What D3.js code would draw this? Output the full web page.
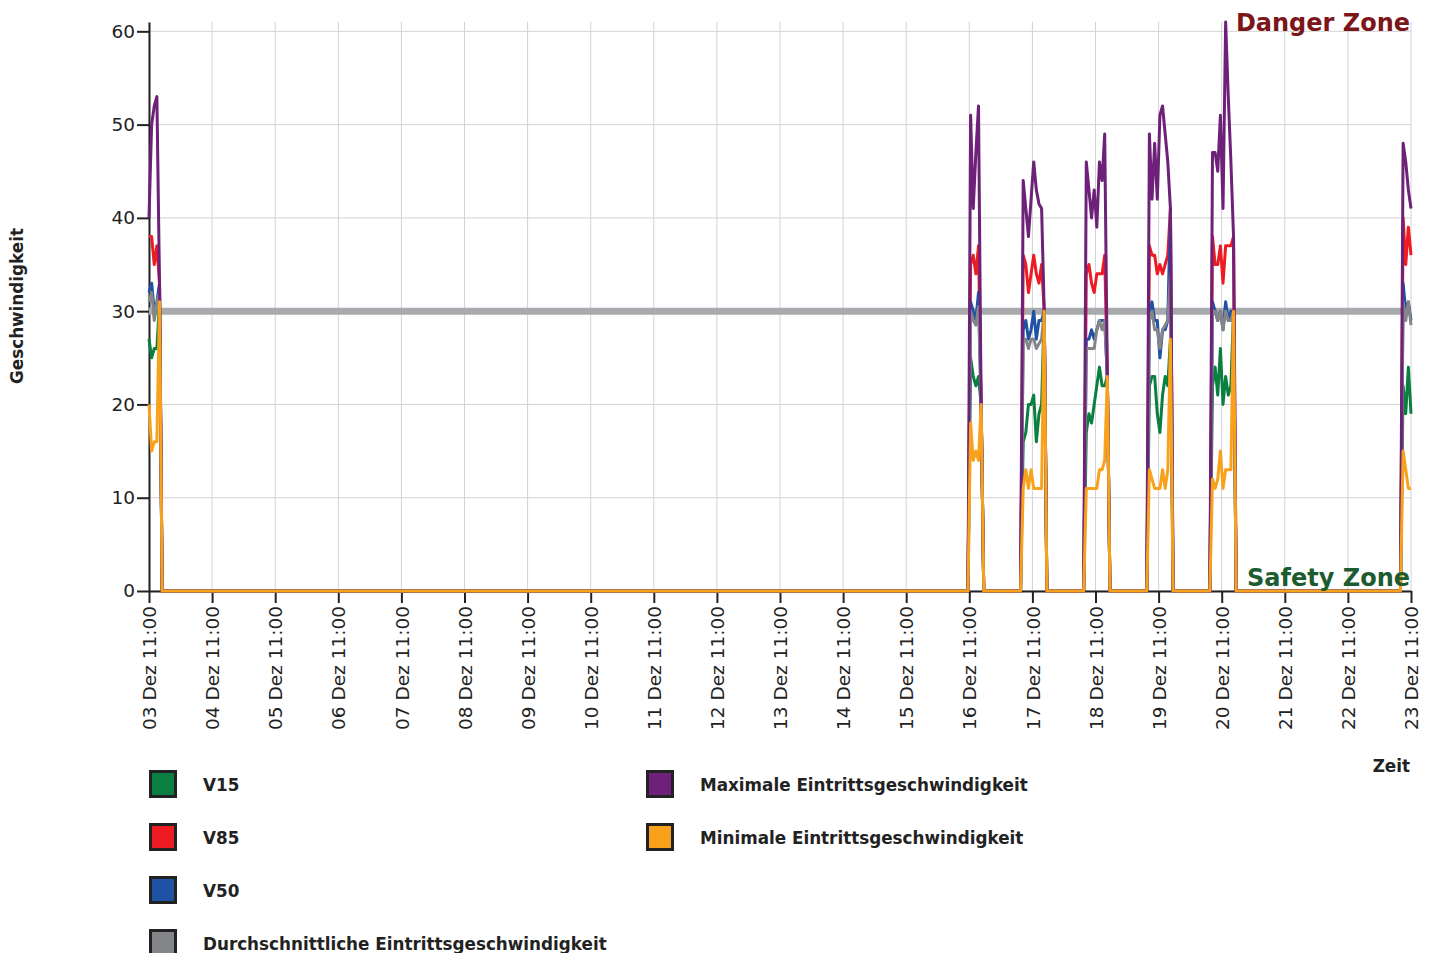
<!DOCTYPE html>
<html>
<head>
<meta charset="utf-8">
<script src="https://cdn.jsdelivr.net/npm/d3@7"></script>
<style>
  body { margin: 0; background: #fff; }
  svg { display: block; font-family: "DejaVu Sans", sans-serif; }
</style>
</head>
<body>
<script>
// --- Data ---
const times = [
  "2023-12-03 11:00", "2023-12-03 12:00", "2023-12-03 13:00", "2023-12-03 14:00", "2023-12-03 15:00", "2023-12-03 16:00",
  "2023-12-16 10:30", "2023-12-16 11:30", "2023-12-16 12:30", "2023-12-16 13:30", "2023-12-16 14:30", "2023-12-16 15:30", "2023-12-16 16:30",
  "2023-12-17 06:30", "2023-12-17 07:30", "2023-12-17 08:30", "2023-12-17 09:30", "2023-12-17 10:30", "2023-12-17 11:30",
  "2023-12-17 12:30", "2023-12-17 13:30", "2023-12-17 14:30", "2023-12-17 15:30", "2023-12-17 16:30",
  "2023-12-18 06:30", "2023-12-18 07:30", "2023-12-18 08:30", "2023-12-18 09:30", "2023-12-18 10:30", "2023-12-18 11:30",
  "2023-12-18 12:30", "2023-12-18 13:30", "2023-12-18 14:30", "2023-12-18 15:30", "2023-12-18 16:30",
  "2023-12-19 06:30", "2023-12-19 07:30", "2023-12-19 08:30", "2023-12-19 09:30", "2023-12-19 10:30", "2023-12-19 11:30",
  "2023-12-19 12:30", "2023-12-19 13:30", "2023-12-19 14:30", "2023-12-19 15:30", "2023-12-19 16:30",
  "2023-12-20 06:30", "2023-12-20 07:30", "2023-12-20 08:30", "2023-12-20 09:30", "2023-12-20 10:30", "2023-12-20 11:30",
  "2023-12-20 12:30", "2023-12-20 13:30", "2023-12-20 14:30", "2023-12-20 15:30", "2023-12-20 16:30",
  "2023-12-23 07:00", "2023-12-23 08:00", "2023-12-23 09:00", "2023-12-23 10:00", "2023-12-23 11:00"
];

const v15 = [
  27, 25, 26, 26, 31, 0,
  0, 25, 23, 22, 23, 20, 0,
  0, 16, 17, 20, 20, 21, 16, 19, 20, 30, 0,
  0, 17, 19, 18, 20, 22, 24, 22, 22, 23, 0,
  0, 22, 23, 23, 19, 17, 21, 23, 22, 27, 0,
  0, 22, 24, 21, 26, 20, 23, 21, 22, 30, 0,
  0, 22, 19, 24, 19
];
const v85 = [
  38, 38, 35, 37, 33, 0,
  0, 35, 36, 34, 37, 20, 0,
  0, 36, 35, 32, 34, 36, 34, 33, 35, 30, 0,
  0, 34, 35, 33, 32, 34, 34, 34, 36, 23, 0,
  0, 37, 36, 36, 34, 35, 34, 35, 36, 41, 0,
  0, 38, 35, 35, 37, 33, 37, 37, 37, 38, 0,
  0, 40, 35, 39, 36
];
const v50 = [
  32, 33, 30, 31, 33, 0,
  0, 31, 30, 29, 32, 20, 0,
  0, 28, 29, 27, 28, 30, 27, 29, 29, 30, 0,
  0, 27, 27, 28, 27, 28, 29, 29, 29, 23, 0,
  0, 30, 31, 29, 29, 25, 28, 28, 29, 41, 0,
  0, 31, 30, 29, 30, 28, 31, 29, 30, 30, 0,
  0, 33, 30, 31, 29
];
const vAvg = [
  31, 32, 29, 31, 32, 0,
  0, 30, 29, 28.5, 30.5, 20, 0,
  0, 27, 27, 26, 27, 27, 26, 26.5, 27, 30, 0,
  0, 26, 26, 26, 26, 28, 29, 28, 29, 23, 0,
  0, 29, 30, 28, 28, 26, 28, 28.5, 29, 34, 0,
  0, 30, 30, 29, 30, 28, 30, 29, 29, 30, 0,
  0, 31, 29, 31, 28.5
];
const vMax = [
  40, 50, 52, 53, 33, 0,
  0, 51, 41, 47, 52, 20, 0,
  0, 44, 41, 38, 42, 46, 43, 41.5, 41, 30, 0,
  0, 46, 43, 40, 43, 39, 46, 44, 49, 23, 0,
  0, 49, 42, 48, 42, 51, 52, 49, 46, 41, 0,
  0, 47, 47, 45, 51, 41, 61, 53, 46, 38, 0,
  0, 48, 46, 43, 41
];
const vMin = [
  20, 15, 16, 16, 31, 0,
  0, 18, 14, 15, 14, 20, 0,
  0, 11, 13, 11, 13, 11, 11, 11, 11, 30, 0,
  0, 11, 11, 11, 11, 11, 13, 13, 14, 23, 0,
  0, 13, 12, 11, 11, 11, 13, 11, 13, 27, 0,
  0, 12, 11, 12, 15, 11, 13, 13, 13, 30, 0,
  0, 15, 13, 11, 11
];

const seriesNames = ["V15", "V85", "V50", "Durchschnittliche Eintrittsgeschwindigkeit",
  "Maximale Eintrittsgeschwindigkeit", "Minimale Eintrittsgeschwindigkeit"];
const seriesValues = [v15, v85, v50, vAvg, vMax, vMin];
const seriesColors = ["#0a7f3f", "#ed1c24", "#2052a3", "#848588", "#6e2178", "#f8a21c"];

const threshold = 30;
const yTicks = [0, 10, 20, 30, 40, 50, 60];

// --- Layout ---
const W = 1437, H = 953;
const X0 = 149, X1 = 1411, Y0 = 591, Y1 = 22;

const parse = d3.timeParse("%Y-%m-%d %H:%M");
const dates = times.map(parse);

const x = d3.scaleTime()
  .domain(d3.extent(dates))
  .range([X0, X1]);

const y = d3.scaleLinear()
  .domain([0, d3.max(seriesValues, s => d3.max(s))])
  .range([Y0, Y1]);

const xTicks = d3.range(0, 21).map(i => d3.timeDay.offset(dates[0], i));

const svg = d3.select("body").append("svg")
  .attr("width", W).attr("height", H);

// Grid
svg.append("g").selectAll("line").data(yTicks).enter().append("line")
  .attr("x1", X0).attr("x2", X1)
  .attr("y1", d => y(d)).attr("y2", d => y(d))
  .attr("stroke", "#d2d2d2").attr("stroke-width", 1);

svg.append("g").selectAll("line").data(xTicks).enter().append("line")
  .attr("x1", d => x(d)).attr("x2", d => x(d))
  .attr("y1", Y1).attr("y2", Y0)
  .attr("stroke", "#d2d2d2").attr("stroke-width", 1);

// Axes
const yAxis = svg.append("g")
  .attr("transform", `translate(${X0},0)`)
  .call(d3.axisLeft(y).tickValues(yTicks).tickSize(12).tickSizeOuter(0).tickPadding(2));

const xAxis = svg.append("g")
  .attr("transform", `translate(0,${Y0})`)
  .call(d3.axisBottom(x).tickValues(xTicks).tickSize(12).tickSizeOuter(0)
    .tickFormat(d3.timeFormat("%d Dez %H:%M")));

xAxis.selectAll("text")
  .attr("transform", "rotate(-90)")
  .attr("x", -15).attr("y", 0).attr("dy", "0.36em")
  .attr("text-anchor", "end");

[yAxis, xAxis].forEach(a => {
  a.select(".domain").attr("stroke", "#222").attr("stroke-width", 2);
  a.selectAll(".tick line").attr("stroke", "#222").attr("stroke-width", 2);
  a.selectAll(".tick text").attr("fill", "#222")
    .attr("font-family", "DejaVu Sans").attr("font-size", 18.5);
});

// Threshold band
svg.append("line")
  .attr("x1", X0).attr("x2", X1)
  .attr("y1", y(threshold)).attr("y2", y(threshold))
  .attr("stroke", "#a9aaad").attr("stroke-width", 7);

// Lines
const line = d3.line()
  .x((d, i) => x(dates[i]))
  .y(d => y(d));

svg.append("g").selectAll("path").data(seriesValues).enter().append("path")
  .attr("d", d => line(d))
  .attr("fill", "none")
  .attr("stroke", (d, i) => seriesColors[i])
  .attr("stroke-width", 3)
  .attr("stroke-linejoin", "round");

// Zone labels
svg.append("text")
  .attr("x", 1410).attr("y", 31)
  .attr("text-anchor", "end")
  .attr("font-size", 24).attr("font-weight", "bold")
  .attr("fill", "#7b1619")
  .text("Danger Zone");

svg.append("text")
  .attr("x", 1410).attr("y", 586)
  .attr("text-anchor", "end")
  .attr("font-size", 24).attr("font-weight", "bold")
  .attr("fill", "#1d5c30")
  .text("Safety Zone");

// Axis titles
svg.append("text")
  .attr("transform", "translate(23,306) rotate(-90)")
  .attr("text-anchor", "middle")
  .attr("font-size", 16.8).attr("font-weight", "bold")
  .attr("fill", "#222")
  .text("Geschwindigkeit");

svg.append("text")
  .attr("x", 1410).attr("y", 772)
  .attr("text-anchor", "end")
  .attr("font-size", 16.8).attr("font-weight", "bold")
  .attr("fill", "#222")
  .text("Zeit");

// Legend
const legendPos = [
  { x: 149, y: 770 }, { x: 149, y: 823 }, { x: 149, y: 876 }, { x: 149, y: 929 },
  { x: 646, y: 770 }, { x: 646, y: 823 }
];

const legend = svg.append("g").selectAll("g").data(seriesNames).enter().append("g")
  .attr("transform", (d, i) => `translate(${legendPos[i].x},${legendPos[i].y})`);

legend.append("rect")
  .attr("x", 1.5).attr("y", 1.5)
  .attr("width", 25).attr("height", 25)
  .attr("fill", (d, i) => seriesColors[i])
  .attr("stroke", "#222").attr("stroke-width", 3);

legend.append("text")
  .attr("x", 54).attr("y", 21)
  .attr("font-size", 16.8).attr("font-weight", "bold")
  .attr("fill", "#222")
  .text(d => d);
</script>
</body>
</html>
